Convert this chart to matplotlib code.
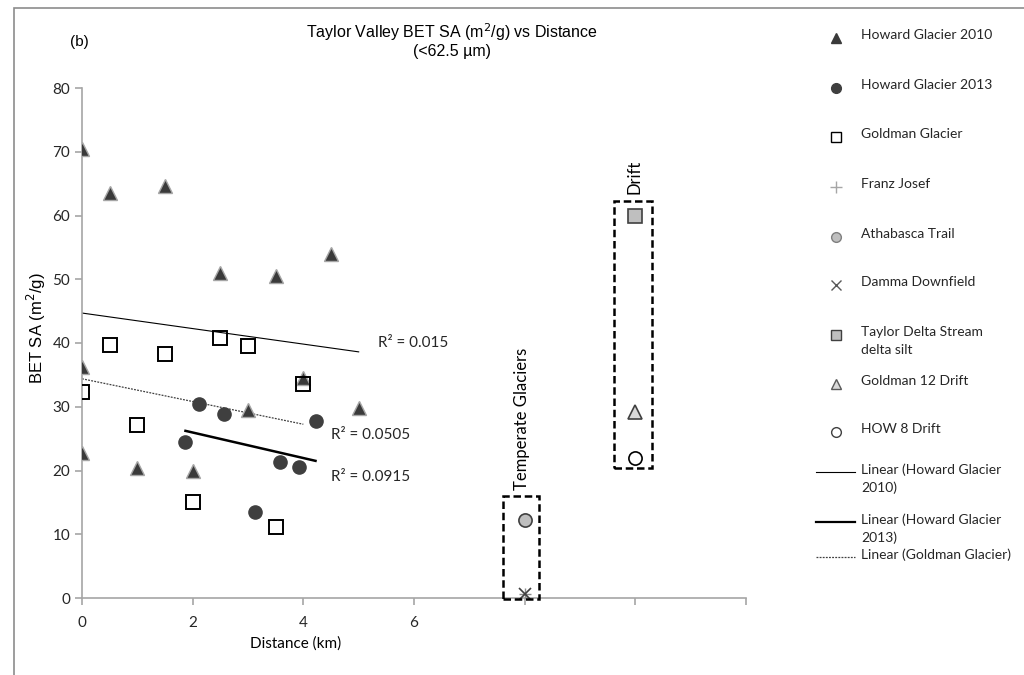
import numpy as np
import matplotlib.pyplot as plt
from matplotlib.patches import Rectangle
from matplotlib.lines import Line2D

# Howard Glacier 2010 (dark triangles)
hg10_x = [0, 0.5, 1.5, 2.5, 3.5, 4.5, 0, 4, 3, 5, 0, 1, 2]
hg10_y = [70.5, 63.6, 64.7, 51.0, 50.5, 54.0, 36.3, 34.5, 29.5, 29.8, 22.8, 20.4, 20.0]

# Howard Glacier 2013 (dark circles)
hg13_x = [2.12, 2.57, 1.87, 4.22, 3.57, 3.92, 3.13]
hg13_y = [30.4, 28.9, 24.5, 27.7, 21.4, 20.5, 13.5]

# Goldman Glacier (open squares)
gold_x = [0, 0.5, 1, 1.5, 2, 2.5, 3, 3.5, 4]
gold_y = [32.3, 39.7, 27.2, 38.2, 15.0, 40.8, 39.5, 11.2, 33.5]

# other sites
franz_x, franz_y = [8], [0.7]
athab_x, athab_y = [8], [12.2]
damma_x, damma_y = [8], [0.6]
taylor_x, taylor_y = [10], [60.0]
g12_x, g12_y = [10], [29.2]
how8_x, how8_y = [10], [21.9]

r2_labels = ["R\u00b2 = 0.015", "R\u00b2 = 0.0505", "R\u00b2 = 0.0915"]

CAL = "Lato"
ARL = "Liberation Sans"

fig = plt.figure(figsize=(10.24, 6.75), dpi=100)
W, H = 1024, 675
ax = fig.add_axes([82 / W, 77 / H, (746 - 82) / W, (598 - 88) / H])

# scatter series
ax.plot(hg10_x, hg10_y, ls="none", marker="^", ms=10, mfc="#3a3a3a", mec="#a6a6a6", mew=1, zorder=3)
ax.plot(hg13_x, hg13_y, ls="none", marker="o", ms=9.5, mfc="#3f3f3f", mec="#3f3f3f", zorder=3)
ax.plot(gold_x, gold_y, ls="none", marker="s", ms=10, mfc="none", mec="black", mew=1.4, zorder=4)
ax.plot(franz_x, franz_y, ls="none", marker="+", ms=9, mec="#8c8c8c", mew=1, zorder=4)
ax.plot(athab_x, athab_y, ls="none", marker="o", ms=9.5, mfc="#bfbfbf", mec="#404040", mew=1.2, zorder=4)
ax.plot(damma_x, damma_y, ls="none", marker="x", ms=8, mec="#404040", mew=1.2, zorder=4)
ax.plot(taylor_x, taylor_y, ls="none", marker="s", ms=9.5, mfc="#bfbfbf", mec="#404040", mew=1.2, zorder=4)
ax.plot(g12_x, g12_y, ls="none", marker="^", ms=10, mfc="#d9d9d9", mec="#404040", mew=1.2, zorder=4)
ax.plot(how8_x, how8_y, ls="none", marker="o", ms=9.5, mfc="white", mec="black", mew=1.2, zorder=4)

# linear trend lines
def trend(x, y):
    k, b = np.polyfit(x, y, 1)
    xx = np.array([min(x), max(x)])
    return xx, k * xx + b

tx, ty = trend(hg10_x, hg10_y)
ax.plot(tx, ty, color="black", lw=0.8, zorder=2)
tx, ty = trend(hg13_x, hg13_y)
ax.plot(tx, ty, color="black", lw=1.8, zorder=2)
tx, ty = trend(gold_x, gold_y)
ax.plot(tx, ty, color="#404040", lw=0.9, ls=(0, (1.5, 1)), zorder=2)

ax.text(5.35, 40.0, r2_labels[0], fontsize=11, family=CAL, va="center", color="#262626")
ax.text(4.5, 25.6, r2_labels[1], fontsize=11, family=CAL, va="center", color="#262626")
ax.text(4.5, 19.0, r2_labels[2], fontsize=11, family=CAL, va="center", color="#262626")

# dashed group boxes
ax.add_patch(Rectangle((7.6, -0.2), 0.66, 16.2, fill=False, ls=(0, (3, 1.5)), lw=1.8,
                       edgecolor="black", zorder=5, clip_on=False))
ax.add_patch(Rectangle((9.62, 20.4), 0.68, 41.8, fill=False, ls=(0, (3, 1.5)), lw=1.8,
                       edgecolor="black", zorder=5, clip_on=False))
ax.text(7.95, 17.0, "Temperate Glaciers", rotation=90, fontsize=12, family=CAL,
        ha="center", va="bottom")
ax.text(9.98, 63.3, "Drift", rotation=90, fontsize=12, family=CAL, ha="center", va="bottom")

# axes styling
ax.set_xlim(0, 12)
ax.set_ylim(0, 80)
ax.set_xticks(range(0, 13, 2))
ax.set_xticklabels(["0", "2", "4", "6", "", "", ""])
ax.set_yticks(range(0, 81, 10))
for s in ("top", "right"):
    ax.spines[s].set_visible(False)
for s in ("left", "bottom"):
    ax.spines[s].set_color("#a6a6a6")
    ax.spines[s].set_linewidth(1.2)
ax.tick_params(colors="#a6a6a6", length=5, width=1.2, labelcolor="#262626", labelsize=11)
for lab in ax.get_xticklabels() + ax.get_yticklabels():
    lab.set_family(CAL)
ax.tick_params(axis="x", pad=8)
ax.set_xlabel("Distance (km)", fontsize=11, family=CAL)
ax.xaxis.set_label_coords((296 - 82) / 664, -(636 - 598) / 510)
ax.set_ylabel("BET SA (m$^2$/g)", fontsize=12, family=ARL)
ax.yaxis.set_label_coords(-(82 - 48) / 664, 0.53)

fig.text(452 / W, 1 - 40 / H, "Taylor Valley BET SA (m$^2$/g) vs Distance\n(<62.5 \u00b5m)",
         fontsize=11.5, family=ARL, ha="center", va="center", linespacing=1.1)
fig.text(79 / W, 1 - 42 / H, "(b)", fontsize=11, family=ARL, ha="center", va="center")

# manual legend on the right
leg_items = [
    (dict(marker="^", ms=7, mfc="#3a3a3a", mec="#3a3a3a", ls="none"), "Howard Glacier 2010", 38),
    (dict(marker="o", ms=7, mfc="#3f3f3f", mec="#3f3f3f", ls="none"), "Howard Glacier 2013", 88),
    (dict(marker="s", ms=7, mfc="none", mec="black", ls="none"), "Goldman Glacier", 137),
    (dict(marker="+", ms=8, mec="#a6a6a6", ls="none"), "Franz Josef", 187),
    (dict(marker="o", ms=7, mfc="#bfbfbf", mec="#7f7f7f", ls="none"), "Athabasca Trail", 237),
    (dict(marker="x", ms=7, mec="#595959", ls="none"), "Damma Downfield", 285),
    (dict(marker="s", ms=7, mfc="#bfbfbf", mec="#404040", ls="none"), "Taylor Delta Stream\ndelta silt", 335),
    (dict(marker="^", ms=7, mfc="#d9d9d9", mec="#595959", ls="none"), "Goldman 12 Drift", 384),
    (dict(marker="o", ms=7, mfc="white", mec="#404040", ls="none"), "HOW 8 Drift", 432),
    (dict(color="black", lw=0.8), "Linear (Howard Glacier\n2010)", 472),
    (dict(color="black", lw=1.6), "Linear (Howard Glacier\n2013)", 522),
    (dict(color="#404040", lw=0.9, ls=(0, (1.5, 1))), "Linear (Goldman Glacier)", 557),
]
for style, label, ypx in leg_items:
    yf = 1 - ypx / H
    if "marker" in style:
        fig.add_artist(Line2D([836 / W], [yf], transform=fig.transFigure, **style))
    else:
        fig.add_artist(Line2D([816 / W, 855 / W], [yf, yf], transform=fig.transFigure, **style))
    fig.text(861 / W, yf + 9 / H, label, fontsize=10, family=CAL, va="top",
             linespacing=1.55, color="#262626")

# outer frame
fig.add_artist(Rectangle((14 / W, -0.1), 1.2, 1 - 8 / H + 0.1, transform=fig.transFigure,
                         fill=False, edgecolor="#8c8c8c", lw=1.2))

fig.savefig("out.png", dpi=100)
